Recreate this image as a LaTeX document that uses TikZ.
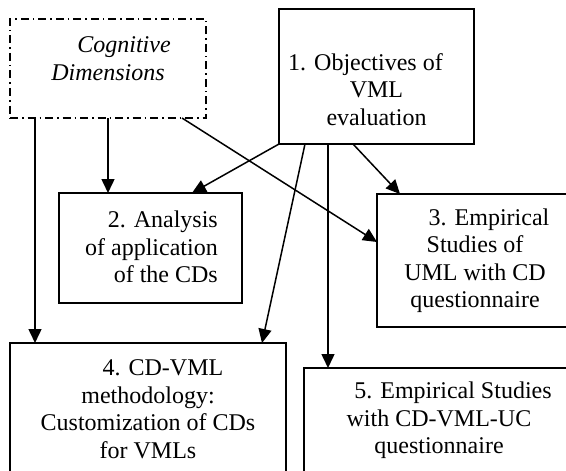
\documentclass[tikz,border=0pt]{standalone}
\usepackage{fontspec}
\setmainfont{Liberation Serif}
\usetikzlibrary{arrows.meta,calc}
\begin{document}
\begin{tikzpicture}[x=1pt,y=-1pt,
  box/.style={draw,line width=1.7pt,rectangle,inner sep=0pt,outer sep=0pt},
  cdbox/.style={draw,line width=1.7pt,rectangle,inner sep=0pt,outer sep=0pt,
     dash pattern=on 8pt off 4pt on 1.5pt off 4pt},
  txt/.style={font=\fontsize{24}{27.5}\selectfont,inner sep=0pt,align=center},
  arr/.style={line width=1.5pt,-{Triangle[length=14pt,width=13pt]}}]
\useasboundingbox (0,0) rectangle (566,471);
\clip (0,0) rectangle (566,471);
% boxes
\node[cdbox,minimum width=196pt,minimum height=99pt] (cd) at (108,68.5) {};
\node[box,minimum width=195pt,minimum height=135pt] (b1) at (376.5,76.5) {};
\node[box,minimum width=183pt,minimum height=110pt] (b2) at (150.5,248) {};
\node[box,minimum width=196pt,minimum height=133pt] (b3) at (475,260.5) {};
\node[box,minimum width=276pt,minimum height=132pt] (b4) at (148,409) {};
\node[box,minimum width=270pt,minimum height=105pt] (b5) at (439,420.5) {};
% texts
\node[txt,font=\fontsize{24}{27.5}\selectfont\itshape] (tcd) at (108,58.5) {\hspace*{32pt}Cognitive\\Dimensions};
\node[txt] (t1) at (376.5,89.5) {1. Objectives of\hspace*{22pt}\\VML\\evaluation};
\node[txt,align=right,anchor=east] (t2) at (218,247) {2. Analysis\\of application\\of the CDs};
\node[txt] (t3) at (475,260.5) {\hspace*{28pt}3. Empirical\\Studies of\\UML with CD\\questionnaire};
\node[txt] (t4) at (148,409) {\hspace*{30pt}4. CD-VML\\methodology:\\Customization of CDs\\for VMLs};
\node[txt] (t5) at (439,420.5) {\hspace*{28pt}5. Empirical Studies\\with CD-VML-UC\\questionnaire};
% connectors
\draw[arr] ([xshift=25pt]cd.south west) -- ([xshift=25pt]b4.north west);
\draw[arr] (cd.south) -- (cd.south |- b2.north);
\draw[arr] ([xshift=-24pt]cd.south east) -- ([yshift=-48pt]b3.north west);
\draw[arr] (b1.south west) -- ([xshift=133pt]b2.north west);
\draw[arr] ([xshift=26pt]b1.south west) -- ([xshift=-24pt]b4.north east);
\coordinate (p6) at ([xshift=49pt]b1.south west);
\draw[arr] (p6) -- (p6 |- b5.north);
\draw[arr] ([xshift=74pt]b1.south west) -- ([xshift=23pt]b3.north west);
\end{tikzpicture}
\end{document}
